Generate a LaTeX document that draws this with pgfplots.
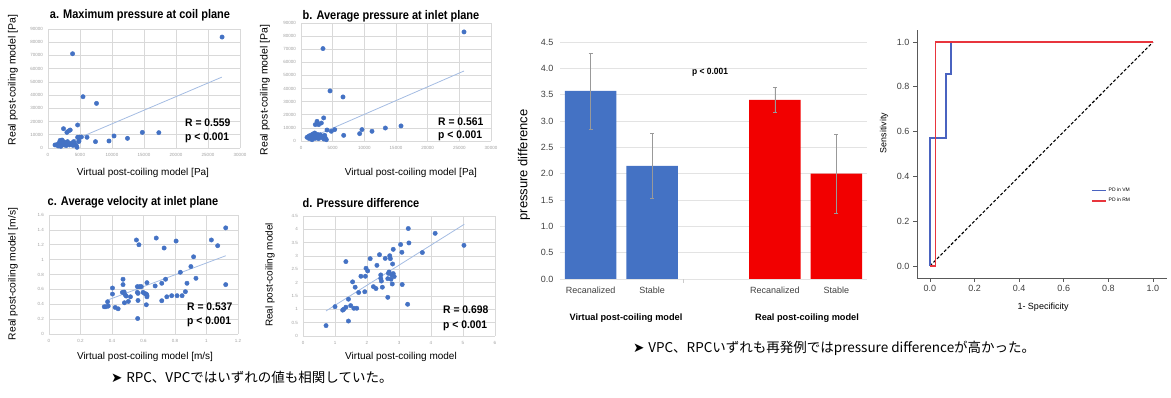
\documentclass[border=0pt]{standalone}
\usepackage{fontspec}
\setmainfont{Liberation Sans}
\newfontfamily\cjk{Noto Sans CJK JP}
\newfontfamily\dejavu{DejaVu Sans}
\usepackage{graphicx}
\usepackage{pgfplots}
\pgfplotsset{compat=1.18}
\definecolor{xblue}{HTML}{4472C4}
\definecolor{trend}{HTML}{A4BCE2}
\definecolor{gridc}{HTML}{D9D9D9}
\definecolor{barred}{HTML}{F20000}
\definecolor{rocblue}{HTML}{4A63C0}
\definecolor{rocred}{HTML}{E8353D}
\newcommand{\fs}[1]{\fontsize{#1}{#1}\selectfont}
\newcommand{\ttl}[1]{\scalebox{0.88}[1]{\fs{12.5}\bfseries #1}}
\newcommand{\stat}[1]{\scalebox{0.94}[1]{\fs{11}\bfseries #1}}
\pgfplotsset{
  scat/.style={
    scale only axis, anchor=south west,
    axis line style={draw=none},
    grid=major, major grid style={gridc, line width=0.6pt},
    major tick length=0pt,
    tick label style={font=\fs{4.5}, text=gray!75},
    /pgf/number format/assume math mode=true,
    /pgf/number format/fixed,
    /pgf/number format/1000 sep={},
    scaled ticks=false,
    xticklabel style={yshift=-1.5pt},
    yticklabel style={xshift=-1.5pt},
  },
  dots/.style={only marks, mark=*, mark size=2.2pt, color=xblue, mark options={fill=xblue, draw=xblue}},
  tline/.style={trend, line width=0.8pt, no marks},
}
\begin{document}
\begin{tikzpicture}
\path[use as bounding box] (0pt,0pt) rectangle (1171pt,398pt);

% ---------------- panel a
\begin{axis}[scat, at={(48pt,250pt)}, width=192pt, height=119pt,
  xmin=0, xmax=30000, ymin=0, ymax=90000,
  xtick={0,5000,...,30000}, ytick={0,10000,...,90000}]
\addplot[tline] coordinates {(2680,3200) (27160,53600)};
\addplot[dots] coordinates {
(27200,83900) (3840,71300) (5470,38800) (7580,33750) (2420,14600) (2950,11800)
(3210,12850) (3470,13600) (4630,17400) (4630,8100) (4900,8200) (5210,8300)
(6100,8100) (7420,4800) (9530,5300) (10320,9100) (12420,7300) (14740,11800)
(17320,11600) (1100,2300) (1470,2800) (1790,4300) (1890,2300) (2100,5300)
(2210,3300) (2420,4800) (2530,2300) (2680,4000) (2840,1800) (3050,4800)
(3210,3300) (3370,2300) (3630,3500) (4000,4800) (4160,2800) (4420,1800)
(4530,500) (4790,4800) (1600,1500) (2000,1200) (2300,3800) (2600,3000)
(1900,5800) (2200,6000) (3900,2000) (4100,3800) (4840,5300)};
\end{axis}

% ---------------- panel b
\begin{axis}[scat, at={(301pt,257pt)}, width=190pt, height=118pt,
  xmin=0, xmax=30000, ymin=0, ymax=90000,
  xtick={0,5000,...,30000}, ytick={0,10000,...,90000}]
\addplot[tline] coordinates {(2000,3500) (25740,53400)};
\addplot[dots] coordinates {
(25740,83200) (3470,70500) (4580,38200) (6630,33600) (3580,17600) (2530,15000)
(2260,12500) (2790,12500) (3210,13700) (4110,8400) (4790,7400) (5320,8700)
(6740,4300) (9260,5600) (9630,8700) (11210,7400) (13320,9900) (15790,11500)
(950,2800) (1210,3600) (1470,4300) (1630,2300) (1840,5300) (2000,3300)
(2160,6100) (2370,4300) (2530,2300) (2790,3600) (3050,4800) (3210,2800)
(3420,3600) (3740,4300) (3840,2300) (4000,1000) (2790,1800) (1740,1000)
(1300,1800) (2200,2000) (2600,5000) (3600,1500)};
\end{axis}

% ---------------- panel c
\begin{axis}[scat, at={(49pt,64pt)}, width=189pt, height=119pt,
  xmin=0, xmax=1.2, ymin=0, ymax=1.6,
  xtick={0,0.2,...,1.2}, ytick={0,0.2,...,1.6}]
\addplot[tline] coordinates {(0.372,0.456) (1.122,1.052)};
\addplot[dots] coordinates {
(0.351,0.366) (0.361,0.366) (0.372,0.433) (0.376,0.375) (0.403,0.618) (0.403,0.537)
(0.42,0.357) (0.439,0.339) (0.47,0.736) (0.47,0.664) (0.466,0.56) (0.477,0.564)
(0.483,0.528) (0.479,0.42) (0.49,0.51) (0.504,0.438) (0.517,0.5) (0.555,1.264)
(0.561,0.637) (0.561,0.56) (0.565,0.546) (0.565,0.451) (0.563,0.208) (0.571,1.2)
(0.576,0.637) (0.586,0.637) (0.597,0.56) (0.607,0.546) (0.618,0.537) (0.622,0.5)
(0.618,0.393) (0.622,0.69) (0.622,0.52) (0.674,0.646) (0.681,1.29) (0.716,0.682)
(0.716,0.447) (0.731,1.156) (0.74,0.736) (0.748,0.5) (0.779,0.515) (0.807,1.25)
(0.813,0.515) (0.834,0.83) (0.845,0.515) (0.866,0.569) (0.876,0.682) (0.901,0.907)
(0.918,1.038) (0.933,0.749) (1.031,1.264) (1.071,1.187) (1.122,1.427) (1.122,0.664)};
\end{axis}

% ---------------- panel d
\begin{axis}[scat, at={(303pt,62pt)}, width=192pt, height=120pt,
  xmin=0, xmax=6, ymin=0, ymax=4.5,
  xtick={0,1,...,6}, ytick={0,0.5,...,4.5}]
\addplot[tline] coordinates {(0.72,0.94) (5.04,4.19)};
\addplot[dots] coordinates {
(0.72,0.39) (1.0,1.1) (1.24,0.97) (1.27,1.0) (1.34,1.08) (1.42,1.38) (1.42,0.56)
(1.49,1.14) (1.59,1.04) (1.68,1.04) (1.34,2.79) (1.55,2.03) (1.63,1.83) (1.74,1.63)
(1.81,2.24) (1.93,1.66) (1.95,2.24) (1.97,2.54) (2.02,2.44) (2.1,2.9) (2.2,1.85)
(2.28,1.78) (2.31,2.65) (2.39,3.05) (2.43,2.29) (2.43,2.16) (2.45,2.06) (2.48,1.83)
(2.57,2.91) (2.65,1.45) (2.65,2.15) (2.67,2.35) (2.69,2.4) (2.71,3.01) (2.73,2.9)
(2.75,2.13) (2.77,2.29) (2.79,1.95) (2.8,2.7) (2.82,3.25) (2.85,2.23) (2.82,2.34)
(3.05,3.43) (3.09,3.14) (3.1,1.93) (3.27,1.19) (3.29,4.03) (3.31,3.49) (3.73,3.13)
(4.13,3.85) (5.03,3.4)};
\end{axis}

% titles, labels, stats for scatter panels
\node at (140pt,383pt) {\ttl{a. Maximum pressure at coil plane}};
\node at (391pt,382pt) {\ttl{b. Average pressure at inlet plane}};
\node at (133pt,196pt) {\ttl{c. Average velocity at inlet plane}};
\node at (361pt,195pt) {\ttl{d. Pressure difference}};
\node[rotate=90] at (13pt,318pt) {\fs{10.5}Real post-coiling model [Pa]};
\node[rotate=90] at (265pt,308pt) {\fs{10.5}Real post-coiling model [Pa]};
\node[rotate=90] at (13pt,124pt) {\fs{10.3}Real post-coiling model [m/s]};
\node[rotate=90] at (270pt,123pt) {\fs{10}Real post-coiling model};
\node at (143pt,225pt) {\fs{10}Virtual post-coiling model [Pa]};
\node at (411pt,225pt) {\fs{10}Virtual post-coiling model [Pa]};
\node at (145pt,41pt) {\fs{10}Virtual post-coiling model [m/s]};
\node at (401pt,41pt) {\fs{10}Virtual post-coiling model};
\node[anchor=west,inner sep=0pt] at (185pt,275pt) {\stat{R = 0.559}};
\node[anchor=west,inner sep=0pt] at (185pt,260pt) {\stat{p < 0.001}};
\node[anchor=west,inner sep=0pt] at (438pt,276pt) {\stat{R = 0.561}};
\node[anchor=west,inner sep=0pt] at (438pt,262pt) {\stat{p < 0.001}};
\node[anchor=west,inner sep=0pt] at (187pt,91pt) {\stat{R = 0.537}};
\node[anchor=west,inner sep=0pt] at (187pt,76pt) {\stat{p < 0.001}};
\node[anchor=west,inner sep=0pt] at (443pt,88pt) {\stat{R = 0.698}};
\node[anchor=west,inner sep=0pt] at (443pt,72pt) {\stat{p < 0.001}};

% ---------------- bar chart
\begin{axis}[at={(560pt,119pt)}, anchor=south west, scale only axis, width=307pt, height=237pt,
  xmin=-0.5, xmax=4.5, ymin=0, ymax=4.5,
  axis line style={draw=none},
  ytick={0,0.5,...,4.5}, ymajorgrids, major grid style={gray!22, line width=0.6pt},
  major tick length=0pt,
  xtick pos=bottom, ytick pos=left,
  xtick={0,1,3,4}, xticklabels={Recanalized,Stable,Recanalized,Stable},
  tick label style={font=\fs{9}, text=black!75},
  /pgf/number format/assume math mode=true,
  /pgf/number format/fixed, /pgf/number format/fixed zerofill, /pgf/number format/precision=1,
  yticklabel style={xshift=-3pt},
  xticklabel style={yshift=-4pt},
  extra x ticks={1.5}, extra x tick labels={}, extra x tick style={major tick length=4pt, tick align=outside, tick style={gray!40}}]
\addplot[ybar, bar width=0.84, bar shift=0pt, fill=xblue, draw=none,
  error bars/.cd, y dir=both, y explicit, error bar style={gray!80, line width=0.5pt},
  error mark options={rotate=90, gray!80, mark size=2pt, line width=0.5pt}]
  coordinates {(0,3.57) +- (0,0.72) (1,2.15) +- (0,0.62)};
\addplot[ybar, bar width=0.84, bar shift=0pt, fill=barred, draw=none,
  error bars/.cd, y dir=both, y explicit, error bar style={gray!80, line width=0.5pt},
  error mark options={rotate=90, gray!80, mark size=2pt, line width=0.5pt}]
  coordinates {(3,3.40) +- (0,0.24) (4,2.00) +- (0,0.75)};
\end{axis}
\node[rotate=90] at (524pt,233pt) {\fs{13}pressure difference};
\node at (710pt,326pt) {\scalebox{0.94}[1]{\fs{9}\bfseries p < 0.001}};
\node at (626pt,80pt) {\fs{9.2}\bfseries Virtual post-coiling model};
\node at (807pt,80pt) {\fs{9.2}\bfseries Real post-coiling model};

% ---------------- ROC
\begin{axis}[at={(917pt,120pt)}, anchor=south west, scale only axis, width=250pt, height=248pt,
  xmin=-0.058, xmax=1.063, ymin=-0.054, ymax=1.054,
  axis x line*=bottom, axis y line*=left,
  axis line style={black!65, line width=0.7pt},
  tick style={black!65, line width=0.7pt}, tick align=outside, major tick length=4pt,
  xtick={0,0.2,...,1}, ytick={0,0.2,...,1},
  tick label style={font=\fs{9}, text=black!75},
  /pgf/number format/assume math mode=true,
  /pgf/number format/fixed, /pgf/number format/fixed zerofill, /pgf/number format/precision=1,
  legend style={at={(0.696,0.371)}, anchor=north west, draw=none, fill=none, font=\fs{5}, inner sep=0pt, row sep=1pt},
  legend cell align=left,
  legend image code/.code={\draw[#1] (0pt,0pt) -- (14pt,0pt);},
  clip=false]
\addplot[black, densely dashed, line width=1.1pt, forget plot] coordinates {(0,0) (1,1)};
\addplot[rocblue, line width=1.5pt] coordinates {(0,0) (0,0.571) (0.071,0.571) (0.071,0.857) (0.095,0.857) (0.095,1) (1,1)};
\addlegendentry{PD in VM}
\addplot[rocred, line width=1.5pt] coordinates {(0,0) (0.024,0) (0.024,1) (1,1)};
\addlegendentry{PD in RM}
\end{axis}
\node[rotate=90] at (884pt,265pt) {\fs{8.9}Sensitivity};
\node at (1043pt,91pt) {\fs{9}1- Specificity};

% ---------------- Japanese notes
\node[anchor=west, inner sep=0pt] at (111pt,21pt) {\fs{13.5}{\dejavu ➤}\ {\cjk RPC、VPCではいずれの値も相関していた。}};
\node[anchor=west, inner sep=0pt] at (633pt,50pt) {\fs{13.5}{\dejavu ➤}\ {\cjk VPC、RPCいずれも再発例ではpressure differenceが高かった。}};
\end{tikzpicture}
\end{document}
